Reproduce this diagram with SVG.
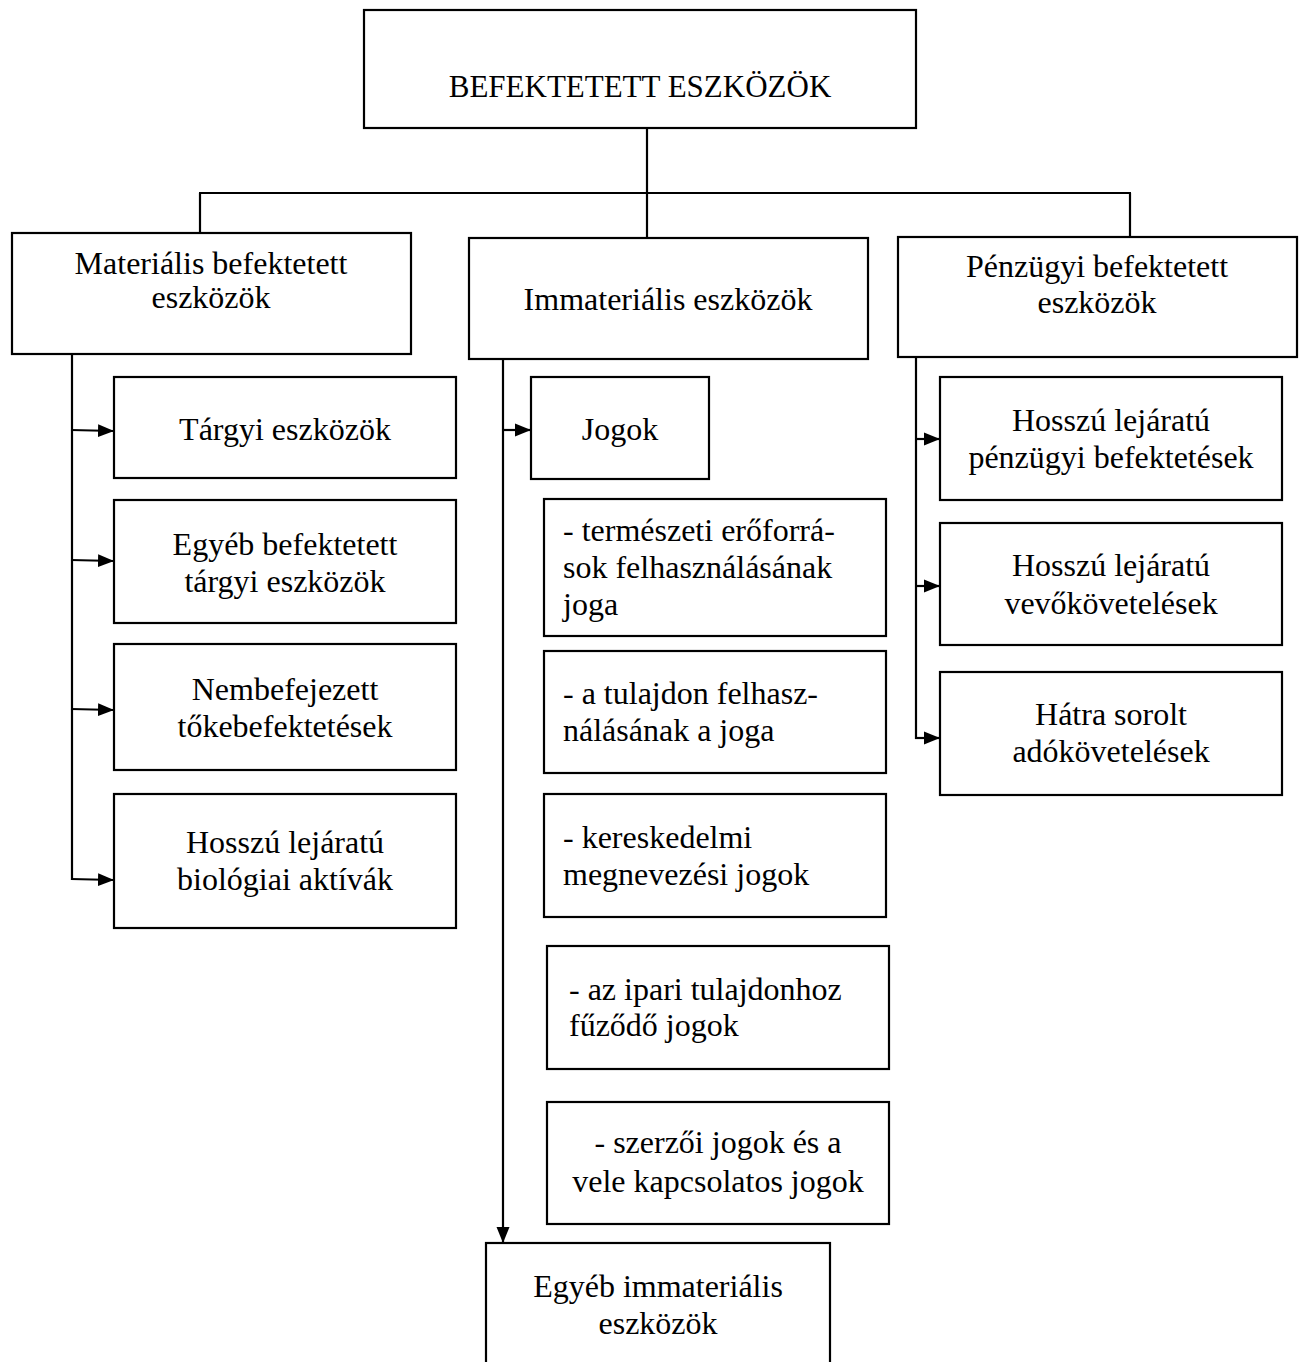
<svg xmlns="http://www.w3.org/2000/svg" width="1305" height="1362" viewBox="0 0 1305 1362">
<defs>
<marker id="ah" markerUnits="userSpaceOnUse" markerWidth="17" markerHeight="14" refX="16" refY="7" orient="auto">
<path d="M0,0.5 L16,7 L0,13.5 z" fill="#000"/>
</marker>
<style>
.box{fill:#fff;stroke:#000;stroke-width:2.2}
.ln{fill:none;stroke:#000;stroke-width:2.2}
.arr{fill:none;stroke:#000;stroke-width:2.2;marker-end:url(#ah)}
text{font-family:"Liberation Serif","Times New Roman",serif;font-size:32px;fill:#000}
.c{text-anchor:middle}
.t{font-size:31px}
</style>
</defs>
<rect width="1305" height="1362" fill="#fff"/>
<g id="connectors">
<line class="ln" x1="647" y1="128" x2="647" y2="238"/>
<line class="ln" x1="199" y1="193" x2="1131" y2="193"/>
<line class="ln" x1="200" y1="193" x2="200" y2="233"/>
<line class="ln" x1="1130" y1="193" x2="1130" y2="237"/>
<line class="ln" x1="72" y1="354" x2="72" y2="880"/>
<line class="arr" x1="71" y1="430" x2="114" y2="431"/>
<line class="arr" x1="71" y1="560" x2="114" y2="561"/>
<line class="arr" x1="71" y1="709" x2="114" y2="710"/>
<line class="arr" x1="71" y1="879" x2="114" y2="880"/>
<line class="arr" x1="503" y1="359" x2="503" y2="1243"/>
<line class="arr" x1="502" y1="430" x2="531" y2="430"/>
<line class="ln" x1="916" y1="357" x2="916" y2="739"/>
<line class="arr" x1="915" y1="439" x2="940" y2="439"/>
<line class="arr" x1="915" y1="586" x2="940" y2="586"/>
<line class="arr" x1="915" y1="738" x2="940" y2="738"/>
</g>
<g id="n-root"><rect class="box" x="364" y="10" width="552" height="118"/><text class="c t" x="640" y="97">BEFEKTETETT ESZKÖZÖK</text></g>
<g id="n-mat"><rect class="box" x="12" y="233" width="399" height="121"/><text class="c" x="211" y="274">Materiális befektetett</text><text class="c" x="211" y="308">eszközök</text></g>
<g id="n-imm"><rect class="box" x="469" y="238" width="399" height="121"/><text class="c" x="668" y="310">Immateriális eszközök</text></g>
<g id="n-penz"><rect class="box" x="898" y="237" width="399" height="120"/><text class="c" x="1097" y="277">Pénzügyi befektetett</text><text class="c" x="1097" y="313">eszközök</text></g>
<g id="n-targyi"><rect class="box" x="114" y="377" width="342" height="101"/><text class="c" x="285" y="440">Tárgyi eszközök</text></g>
<g id="n-egyeb-targyi"><rect class="box" x="114" y="500" width="342" height="123"/><text class="c" x="285" y="555">Egyéb befektetett</text><text class="c" x="285" y="592">tárgyi eszközök</text></g>
<g id="n-nembef"><rect class="box" x="114" y="644" width="342" height="126"/><text class="c" x="285" y="700">Nembefejezett</text><text class="c" x="285" y="737">tőkebefektetések</text></g>
<g id="n-bio"><rect class="box" x="114" y="794" width="342" height="134"/><text class="c" x="285" y="853">Hosszú lejáratú</text><text class="c" x="285" y="890">biológiai aktívák</text></g>
<g id="n-jogok"><rect class="box" x="531" y="377" width="178" height="102"/><text class="c" x="620" y="440">Jogok</text></g>
<g id="n-term"><rect class="box" x="544" y="499" width="342" height="137"/><text x="563" y="541">- természeti erőforrá-</text><text x="563" y="578">sok felhasználásának</text><text x="563" y="615">joga</text></g>
<g id="n-tulaj"><rect class="box" x="544" y="651" width="342" height="122"/><text x="563" y="704">- a tulajdon felhasz-</text><text x="563" y="741">nálásának a joga</text></g>
<g id="n-keresk"><rect class="box" x="544" y="794" width="342" height="123"/><text x="563" y="848">- kereskedelmi</text><text x="563" y="885">megnevezési jogok</text></g>
<g id="n-ipari"><rect class="box" x="547" y="946" width="342" height="123"/><text x="569" y="1000">- az ipari tulajdonhoz</text><text x="569" y="1036">fűződő jogok</text></g>
<g id="n-szerzoi"><rect class="box" x="547" y="1102" width="342" height="122"/><text class="c" x="718" y="1153">- szerzői jogok és a</text><text class="c" x="718" y="1192">vele kapcsolatos jogok</text></g>
<g id="n-egyeb-imm"><rect class="box" x="486" y="1243" width="344" height="130"/><text class="c" x="658" y="1297">Egyéb immateriális</text><text class="c" x="658" y="1334">eszközök</text></g>
<g id="n-hl-penz"><rect class="box" x="940" y="377" width="342" height="123"/><text class="c" x="1111" y="431">Hosszú lejáratú</text><text class="c" x="1111" y="468">pénzügyi befektetések</text></g>
<g id="n-hl-vevo"><rect class="box" x="940" y="523" width="342" height="122"/><text class="c" x="1111" y="576">Hosszú lejáratú</text><text class="c" x="1111" y="614">vevőkövetelések</text></g>
<g id="n-hatra"><rect class="box" x="940" y="672" width="342" height="123"/><text class="c" x="1111" y="725">Hátra sorolt</text><text class="c" x="1111" y="762">adókövetelések</text></g>
</svg>
